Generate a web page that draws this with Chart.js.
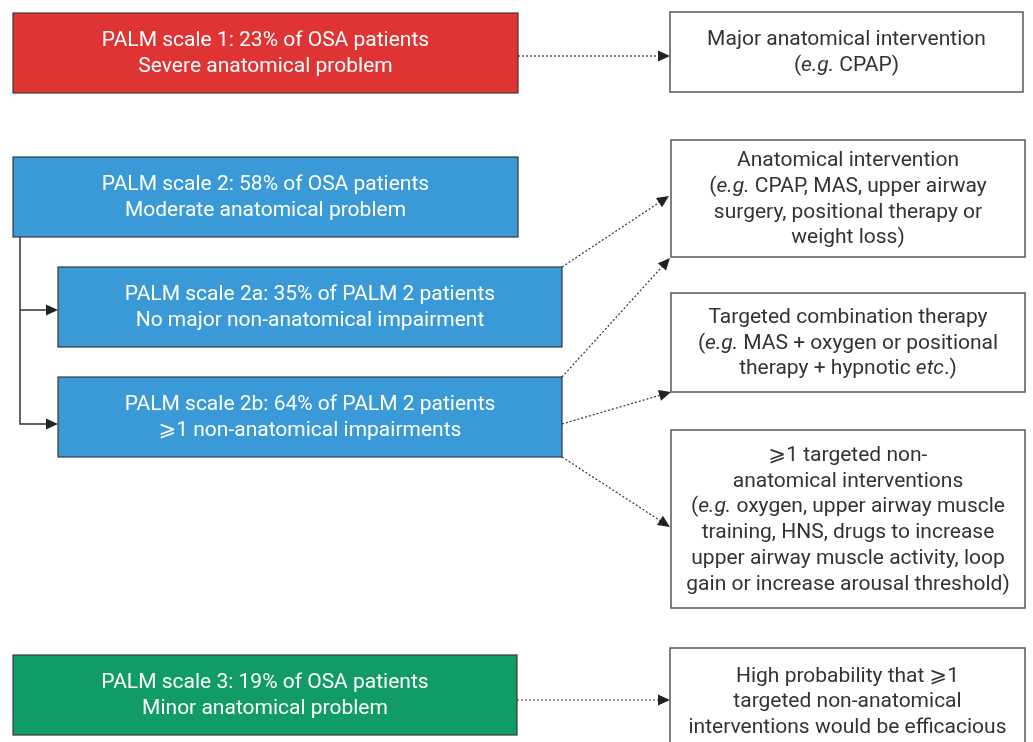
<!DOCTYPE html>
<html>
<head>
<meta charset="utf-8">
<script src="https://cdn.jsdelivr.net/npm/chart.js@4.4.1/dist/chart.umd.min.js"></script>
<style>
  html, body { margin: 0; padding: 0; background: #fff; }
  #wrap { width: 1033px; height: 742px; position: relative; }
</style>
</head>
<body>
<div id="wrap"><canvas id="chart"></canvas></div>
<script>
// PALM scale flow diagram - Chart.js scatter canvas with a box/arrow plugin
// Text between * marks is drawn in italics.

const stageLabels = [
  ['PALM scale 1: 23% of OSA patients', 'Severe anatomical problem'],
  ['PALM scale 2: 58% of OSA patients', 'Moderate anatomical problem'],
  ['PALM scale 2a: 35% of PALM 2 patients', 'No major non-anatomical impairment'],
  ['PALM scale 2b: 64% of PALM 2 patients', '⩾1 non-anatomical impairments'],
  ['PALM scale 3: 19% of OSA patients', 'Minor anatomical problem']
];
const stageColors = ['#e03434', '#3a9ad8', '#3a9ad8', '#3a9ad8', '#109c64'];

const treatmentLabels = [
  ['Major anatomical intervention', '(*e.g.* CPAP)'],
  ['Anatomical intervention', '(*e.g.* CPAP, MAS, upper airway', 'surgery, positional therapy or', 'weight loss)'],
  ['Targeted combination therapy', '(*e.g.* MAS + oxygen or positional', 'therapy + hypnotic *etc*.)'],
  ['⩾1 targeted non-', 'anatomical interventions', '(*e.g.* oxygen, upper airway muscle', 'training, HNS, drugs to increase',
   'upper airway muscle activity, loop', 'gain or increase arousal threshold)'],
  ['High probability that ⩾1', 'targeted non-anatomical', 'interventions would be efficacious']
];

// dotted links: [stage, treatment]
const links = [[0, 0], [2, 1], [3, 1], [3, 2], [3, 3], [4, 4]];

// layout in diagram units (x0, y0, x1, y1), y grows downward
const stageBoxes = [
  [13, 13, 518, 93],
  [13, 157, 518, 237],
  [58, 267, 562, 347],
  [58, 377, 562, 457],
  [13, 655, 517, 735]
];
const treatmentBoxes = [
  [670, 12, 1023, 92],
  [671, 140, 1025, 257],
  [671, 293, 1025, 392],
  [671, 430, 1025, 608],
  [670, 648, 1025, 760]
];
// link start / end anchors
const linkPaths = [
  [[518, 56], [670, 56]],
  [[562, 267], [669, 196]],
  [[562, 377], [670, 258]],
  [[562, 424], [671, 392]],
  [[562, 457], [670, 527]],
  [[517, 700], [670, 700]]
];

const FONT = 'Roboto, "DejaVu Sans", sans-serif';
const FONT_SIZE = 21;
const LINE_H = 25.7;

function drawRich(ctx, text, cx, cy, color) {
  const parts = text.split('*');
  const fonts = parts.map((_, i) => (i % 2 ? 'italic ' : '') + FONT_SIZE + 'px ' + FONT);
  let total = 0;
  parts.forEach((p, i) => { ctx.font = fonts[i]; total += ctx.measureText(p).width; });
  let x = cx - total / 2;
  ctx.fillStyle = color;
  ctx.textAlign = 'left';
  ctx.textBaseline = 'middle';
  parts.forEach((p, i) => {
    ctx.font = fonts[i];
    ctx.fillText(p, x, cy + 1);
    x += ctx.measureText(p).width;
  });
}

function arrowHead(ctx, x0, y0, x1, y1) {
  const a = Math.atan2(y1 - y0, x1 - x0);
  const len = 12, half = 5.5;
  ctx.save();
  ctx.translate(x1, y1);
  ctx.rotate(a);
  ctx.beginPath();
  ctx.moveTo(0, 0);
  ctx.lineTo(-len, -half);
  ctx.lineTo(-len, half);
  ctx.closePath();
  ctx.fillStyle = '#222';
  ctx.fill();
  ctx.restore();
}

const diagramPlugin = {
  id: 'diagram',
  afterDraw(chart) {
    const { ctx, scales: { x, y } } = chart;
    const px = v => x.getPixelForValue(v);
    const py = v => y.getPixelForValue(v);
    ctx.save();

    // stage boxes
    stageBoxes.forEach((b, i) => {
      const x0 = px(b[0]), y0 = py(b[1]), x1 = px(b[2]), y1 = py(b[3]);
      ctx.fillStyle = stageColors[i];
      ctx.fillRect(x0, y0, x1 - x0, y1 - y0);
      ctx.strokeStyle = '#3a3a3a';
      ctx.lineWidth = 1.2;
      ctx.strokeRect(x0, y0, x1 - x0, y1 - y0);
      const lines = stageLabels[i];
      const cy = (y0 + y1) / 2;
      lines.forEach((t, k) => {
        drawRich(ctx, t, (x0 + x1) / 2, cy + (k - (lines.length - 1) / 2) * LINE_H, '#ffffff');
      });
    });

    // treatment boxes
    treatmentBoxes.forEach((b, i) => {
      const x0 = px(b[0]), y0 = py(b[1]), x1 = px(b[2]), y1 = py(b[3]);
      ctx.fillStyle = '#ffffff';
      ctx.fillRect(x0, y0, x1 - x0, y1 - y0);
      ctx.strokeStyle = '#555555';
      ctx.lineWidth = 1.5;
      ctx.strokeRect(x0, y0, x1 - x0, y1 - y0);
      const lines = treatmentLabels[i];
      const cy = i === 4 ? py(701) : (y0 + y1) / 2;
      lines.forEach((t, k) => {
        drawRich(ctx, t, (x0 + x1) / 2, cy + (k - (lines.length - 1) / 2) * LINE_H, '#333333');
      });
    });

    // solid branch from scale 2 to 2a / 2b
    const bx = px(20);
    ctx.strokeStyle = '#333';
    ctx.lineWidth = 1.5;
    ctx.setLineDash([]);
    ctx.beginPath();
    ctx.moveTo(bx, py(237));
    ctx.lineTo(bx, py(424));
    ctx.lineTo(px(50), py(424));
    ctx.moveTo(bx, py(310));
    ctx.lineTo(px(50), py(310));
    ctx.stroke();
    arrowHead(ctx, bx, py(310), px(58), py(310));
    arrowHead(ctx, bx, py(424), px(58), py(424));

    // dotted links
    links.forEach((l, i) => {
      const [[sx, sy], [ex, ey]] = linkPaths[i];
      const x0 = px(sx), y0 = py(sy), x1 = px(ex), y1 = py(ey);
      const a = Math.atan2(y1 - y0, x1 - x0);
      ctx.strokeStyle = '#333';
      ctx.lineWidth = 1.2;
      ctx.setLineDash([2, 2]);
      ctx.beginPath();
      ctx.moveTo(x0, y0);
      ctx.lineTo(x1 - Math.cos(a) * 9, y1 - Math.sin(a) * 9);
      ctx.stroke();
      ctx.setLineDash([]);
      arrowHead(ctx, x0, y0, x1, y1);
    });

    ctx.restore();
  }
};

new Chart(document.getElementById('chart').getContext('2d'), {
  type: 'scatter',
  data: { datasets: [{ data: [], pointRadius: 0 }] },
  options: {
    responsive: true,
    maintainAspectRatio: false,
    animation: false,
    layout: { padding: 0 },
    plugins: { legend: { display: false }, tooltip: { enabled: false } },
    scales: {
      x: { type: 'linear', min: 0, max: 1033, display: false },
      y: { type: 'linear', min: 0, max: 742, reverse: true, display: false }
    }
  },
  plugins: [diagramPlugin]
});
</script>
</body>
</html>
